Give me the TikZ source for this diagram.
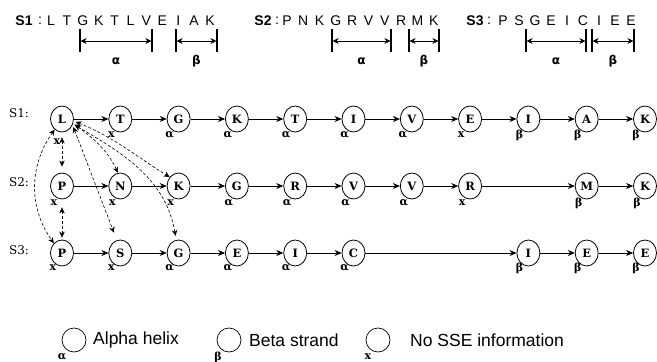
\documentclass[tikz,border=0pt]{standalone}
\usepackage{fontspec}
\setmainfont{Liberation Sans}
\newfontfamily\resfont{DejaVu Serif}
\newfontfamily\greekfont{DejaVu Sans}
\usetikzlibrary{arrows.meta,shapes.geometric}

% a labelled span under a sequence: left x, right x, label, name
\newcommand\ssespan[4]{%
  \coordinate (#4-l) at (#1,-41);
  \coordinate (#4-r) at (#2,-41);
  \draw[spantick] (#1,-29) -- (#1,-52);
  \draw[spantick] (#2,-29) -- (#2,-52);
  \draw[spanarrow] (#4-l) -- (#4-r);
  \node[spanlab] (#4-t) at ({(#1+#2)/2},-61) {#3};
}

\begin{document}
\begin{tikzpicture}[x=1pt,y=1pt,
  res/.style={ellipse,draw,line width=0.8pt,minimum width=23pt,minimum height=26pt,
    inner sep=0pt,font=\resfont\bfseries\fontsize{11.5}{11.5}\selectfont},
  ss/.style={inner sep=0pt,font=\resfont\bfseries\fontsize{11}{11}\selectfont},
  link/.style={line width=0.7pt,-{Stealth[length=7pt,width=6pt]}},
  pair/.style={line width=0.6pt,dash pattern=on 3pt off 2pt,
    {Stealth[length=6pt,width=5.5pt]}-{Stealth[length=6pt,width=5.5pt]}},
  seq/.style={inner sep=0pt,font=\fontsize{14}{14}\selectfont},
  seqname/.style={inner sep=0pt,font=\bfseries\fontsize{14}{14}\selectfont},
  rowlab/.style={inner sep=0pt,font=\resfont\fontsize{12}{12}\selectfont},
  spantick/.style={line width=1.3pt},
  spanarrow/.style={line width=0.8pt,shorten <=0.6pt,shorten >=0.6pt,
    {Stealth[length=6pt,width=6pt]}-{Stealth[length=6pt,width=6pt]}},
  spanlab/.style={inner sep=0pt,font=\greekfont\bfseries\fontsize{12}{12}\selectfont},
  legcirc/.style={circle,draw,line width=0.7pt,minimum size=24pt,inner sep=0pt},
  legtext/.style={anchor=west,inner sep=0pt,font=\fontsize{17.5}{17.5}\selectfont}
]
\useasboundingbox (0,0) rectangle (657,-362);

% ---- the three sequences ----
\node[seqname] (s1n) at (24,-21) {S1};
\node[seq] (s1c) at (40,-21) {:};
\foreach \c [count=\i from 0] in {L,T,G,K,T,L,V,E,I,A,K}
  \node[seq] (s1-\i) at ({51+15.9*\i},-21) {\c};

\node[seqname] (s2n) at (263,-21) {S2};
\node[seq] (s2c) at (277,-21) {:};
\foreach \c [count=\i from 0] in {P,N,K,G,R,V,V,R,M,K}
  \node[seq] (s2-\i) at ({287+16.3*\i},-21) {\c};

\node[seqname] (s3n) at (475,-21) {S3};
\node[seq] (s3c) at (489,-21) {:};
\foreach \c [count=\i from 0] in {P,S,G,E,I,C,I,E,E}
  \node[seq] (s3-\i) at ({503+16*\i},-21) {\c};

% ---- secondary structure spans ----
\ssespan{80}{152}{α}{sa1}
\ssespan{176}{217}{β}{sb1}
\ssespan{332}{391}{α}{sa2}
\ssespan{409}{439}{β}{sb2}
\ssespan{526}{586}{α}{sa3}
\ssespan{592}{634}{β}{sb3}

% ---- row labels ----
\node[rowlab] (row1) at (19,-113) {S1:};
\node[rowlab] (row2) at (19,-182) {S2:};
\node[rowlab] (row3) at (19,-250) {S3:};

% ---- residues, row 1 ----
\foreach \c [count=\i from 0] in {L,T,G,K,T,I,V,E,I,A,K}
  \node[res] (r1-\i) at ({62+58.3*\i},-119) {\c};
\node[ss] (t1-0) at (57,-142) {x};
\foreach \s [count=\i from 1] in {x,α,α,α,α,α,x,β,β,β}
  \node[ss] (t1-\i) at ({62+58.3*\i-9},-135) {\s};
\foreach \a/\b in {0/1,1/2,2/3,3/4,4/5,5/6,6/7,7/8,8/9,9/10}
  \draw[link] (r1-\a) -- (r1-\b);

% ---- residues, row 2 ----
\foreach \k/\c/\s in {0/P/x,1/N/x,2/K/x,3/G/α,4/R/α,5/V/α,6/V/α,7/R/x,9/M/β,10/K/β}{
  \node[res] (r2-\k) at ({62+58.3*\k},-186) {\c};
  \node[ss] (t2-\k) at ({62+58.3*\k-8},-203) {\s};
}
\foreach \a/\b in {0/1,1/2,2/3,3/4,4/5,5/6,6/7,7/9,9/10}
  \draw[link] (r2-\a) -- (r2-\b);

% ---- residues, row 3 ----
\foreach \k/\c/\s in {0/P/x,1/S/x,2/G/α,3/E/α,4/I/α,5/C/α,8/I/β,9/E/β,10/E/β}{
  \node[res] (r3-\k) at ({62+58.3*\k},-253) {\c};
  \node[ss] (t3-\k) at ({62+58.3*\k-9},-268) {\s};
}
\foreach \a/\b in {0/1,1/2,2/3,3/4,4/5,5/8,8/9,9/10}
  \draw[link] (r3-\a) -- (r3-\b);

% ---- alignment pairs of the first residue ----
\draw[pair,shorten <=5pt,shorten >=6pt] (r1-0) -- (r2-0);
\draw[pair,shorten <=8pt,shorten >=2pt] (r2-0) -- (r3-0);
\draw[pair] (r1-0.235) to[out=235,in=125] (r3-0.130);
\draw[pair,shorten <=2pt,shorten >=8pt] (r1-0.-30) -- (r3-1.105);
\draw[pair,shorten <=2pt] (r1-0.-20) to[out=-38,in=115] (r2-1.100);
\draw[pair,shorten <=2pt] (r1-0.-10) to[out=-22,in=148] (r2-2.135);
\draw[pair,shorten <=2pt,shorten >=4pt] (r1-0.-25) to[out=-30,in=100] (r3-2.100);

% ---- legend ----
\node[legcirc] (lga) at (74,-340) {};
\node[ss] (lga-s) at (62,-357) {α};
\node[legtext] (lga-t) at (93,-340) {Alpha helix};
\node[legcirc] (lgb) at (229,-340) {};
\node[ss] (lgb-s) at (218,-357) {β};
\node[legtext] (lgb-t) at (249,-340) {Beta strand};
\node[legcirc] (lgx) at (378,-340) {};
\node[ss] (lgx-s) at (368,-357) {x};
\node[legtext] (lgx-t) at (410,-340) {No SSE information};
\end{tikzpicture}
\end{document}
